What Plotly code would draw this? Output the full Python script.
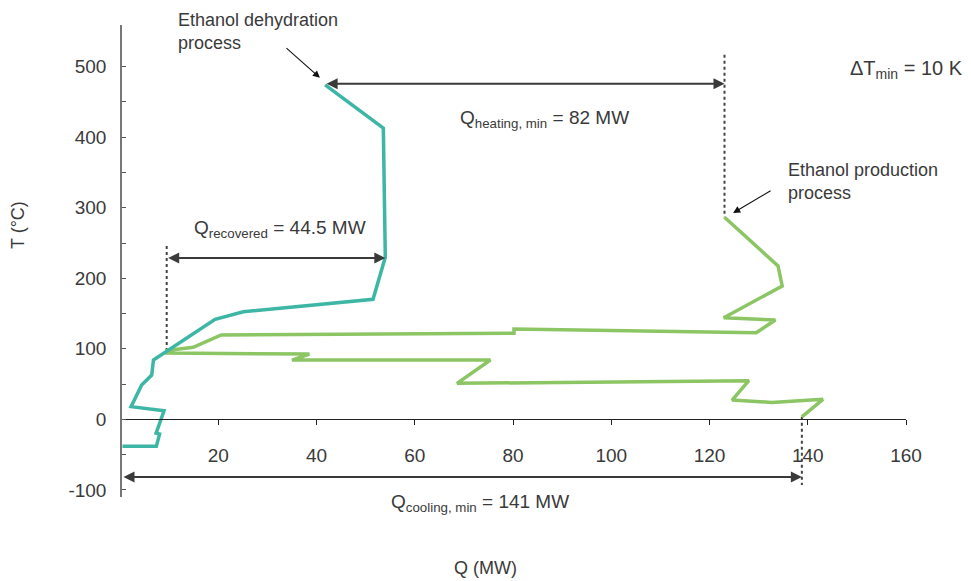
import plotly.graph_objects as go

# ---------------- data ----------------
# Ethanol dehydration process (teal curve)
dehyd_q = [41.75, 53.6, 54.0, 51.5, 25.1, 19.35, 6.8, 6.45, 4.4, 2.25, 8.95, 7.35, 8.05, 7.4, 0.5]
dehyd_t = [474.2, 412.8, 229.8, 170.2, 152.6, 141.8, 84.1, 62.8, 48.7, 18.0, 12.2, -19.4, -20.8, -37.9, -37.9]

# Ethanol production process (green curve)
prod_q = [123.05, 133.95, 134.8, 122.9, 133.4, 129.5, 80.2, 80.2, 20.6, 14.9, 9.5, 9.5,
          38.55, 35.0, 75.4, 68.6, 128.0, 124.6, 132.7, 143.1, 138.8]
prod_t = [286.5, 217.4, 189.1, 144.1, 140.9, 122.8, 128.1, 122.0, 119.6, 102.1, 97.6, 94.0,
          92.6, 84.1, 84.1, 51.1, 54.8, 27.4, 24.1, 28.4, 3.7]

# dimension arrows (Q from, Q to, T level)
heating_span = (41.75, 123.05, 475.6)
recovered_span = (9.5, 54.0, 228.8)
cooling_span = (0.4, 138.8, -81.8)

# dashed guide lines (Q, T from, T to)
heating_guide = (123.05, 517.0, 286.5)
recovered_guide = (9.5, 245.8, 97.0)
cooling_guide = (138.8, 3.7, -93.0)

x_ticks = [20, 40, 60, 80, 100, 120, 140, 160]
y_ticks = [-100, 0, 100, 200, 300, 400, 500]
y_labels = ["-100", "0", "100", "200", "300", "400", "500"]
y_minor = [-50, 50, 150, 250, 350, 450]

TEAL = "#3db6a5"
GREEN = "#8cc563"
DARK = "#3a3a3a"
FONT = "Liberation Sans, Arial, sans-serif"

fig = go.Figure()

for gq, t0, t1 in (heating_guide, recovered_guide, cooling_guide):
    fig.add_trace(go.Scatter(x=[gq, gq], y=[t0, t1], mode="lines",
                             line=dict(color="#444444", width=2, dash="3px,3px"),
                             hoverinfo="skip"))

fig.add_trace(go.Scatter(x=prod_q, y=prod_t, mode="lines",
                         line=dict(color=GREEN, width=3.5), name="Ethanol production process"))
fig.add_trace(go.Scatter(x=dehyd_q, y=dehyd_t, mode="lines",
                         line=dict(color=TEAL, width=3.5), name="Ethanol dehydration process"))

# layout geometry helpers (pixel -> paper)
L, R, T, B = 122, 65, 25, 84
W, H = 971, 581
PW, PH = W - L - R, H - T - B


def px(xp, yp):
    return (xp - L) / PW, (H - B - yp) / PH


annotations = []

# double-headed dimension arrows
for q0, q1, tt in (heating_span, recovered_span, cooling_span):
    annotations.append(dict(x=q1, y=tt, ax=q0, ay=tt, xref="x", yref="y", axref="x", ayref="y",
                            text="", showarrow=True, arrowside="end+start", arrowhead=2,
                            arrowsize=1.1, arrowwidth=2, arrowcolor=DARK, standoff=0, startstandoff=0))

# pointer arrows
annotations.append(dict(x=40.7, y=484.1, ax=-35, ay=-31, xref="x", yref="y", text="",
                        showarrow=True, arrowhead=2, arrowsize=1.3, arrowwidth=1.1, arrowcolor="#111"))
annotations.append(dict(x=124.8, y=292.6, ax=39, ay=-23, xref="x", yref="y", text="",
                        showarrow=True, arrowhead=2, arrowsize=1.3, arrowwidth=1.1, arrowcolor="#111"))


def text_ann(txt, xp, yp, xanchor="center", yanchor="middle", size=19, angle=0, align="left"):
    x, y = px(xp, yp)
    annotations.append(dict(x=x, y=y, xref="paper", yref="paper", text=txt, showarrow=False,
                            xanchor=xanchor, yanchor=yanchor, align=align, textangle=angle,
                            font=dict(family=FONT, size=size, color=DARK)))


text_ann("Ethanol dehydration<br>process", 176, 32, xanchor="left", size=18)
text_ann("Ethanol production<br>process", 786, 181, xanchor="left", size=18)
text_ann("ΔT<sub>min</sub> = 10 K", 848, 70, xanchor="left", size=20)
text_ann("Q<sub>heating, min</sub> = 82 MW", 544, 119)
text_ann("Q<sub>recovered</sub> = 44.5 MW", 280, 229)
text_ann("Q<sub>cooling, min</sub> = 141 MW", 480, 503)
text_ann("Q (MW)", 485, 568, size=18)
text_ann("T (°C)", 18, 225, size=18, angle=-90)

fig.update_layout(
    width=W, height=H,
    margin=dict(l=L, r=R, t=T, b=B),
    paper_bgcolor="white", plot_bgcolor="white",
    showlegend=False,
    font=dict(family=FONT, color=DARK),
    annotations=annotations,
    xaxis=dict(range=[0.4, 160], showgrid=False, zeroline=False, showline=True,
               linecolor="#222222", linewidth=1.2, anchor="free", position=110 / 669,
               tickmode="array", tickvals=x_ticks, ticks="outside", ticklen=5,
               tickcolor="#222222", tickwidth=1, ticklabelstandoff=14,
               tickfont=dict(family=FONT, size=19, color=DARK)),
    yaxis=dict(range=[-110, 559], showgrid=False, zeroline=False, showline=True,
               linecolor="#777777", linewidth=1.5, tickmode="array", tickvals=y_ticks,
               ticktext=y_labels, ticks="inside", ticklen=4, tickcolor="#555555",
               ticklabelstandoff=10,
               minor=dict(tickmode="array", tickvals=y_minor, ticks="inside", ticklen=4,
                          tickcolor="#555555"),
               tickfont=dict(family=FONT, size=19, color=DARK)),
)

fig.write_html("out.html")
